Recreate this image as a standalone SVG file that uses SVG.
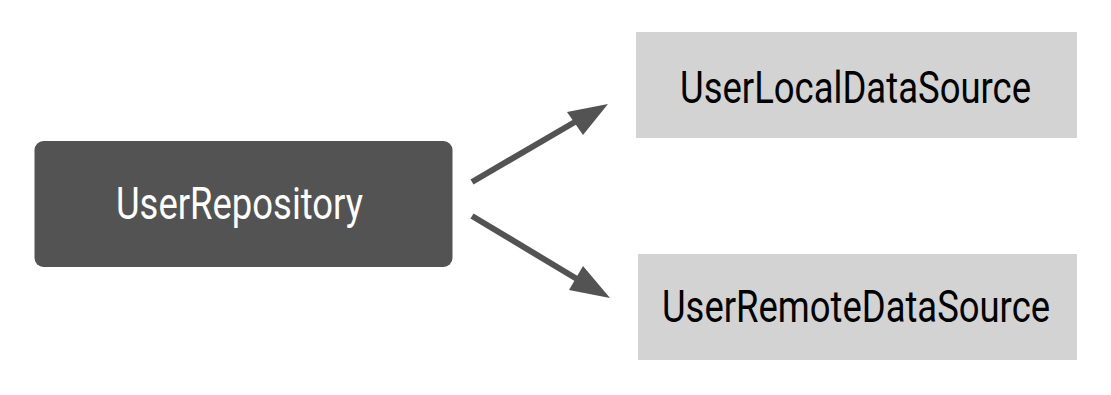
<svg xmlns="http://www.w3.org/2000/svg" width="1111" height="395" viewBox="0 0 1111 395">
<style>
.dark{fill:#535353}
.light{fill:#d3d3d3}
.t{font-family:Roboto,"Liberation Sans",sans-serif;font-size:45px;text-anchor:start}
.tw{fill:#ffffff}
.tb{fill:#000000}
.conn line{stroke:#535353;stroke-width:6}
.conn polygon{fill:#535353}
</style>
<rect width="1111" height="395" fill="#ffffff"/>
<g id="node-userrepository">
<rect class="dark" x="34.500" y="141" width="418" height="126" rx="9"/>
<text class="t tw" x="116" y="219" textLength="247" lengthAdjust="spacingAndGlyphs">UserRepository</text>
</g>
<g id="node-userlocaldatasource">
<rect class="light" x="636" y="32" width="441" height="106"/>
<text class="t tb" x="680" y="103" textLength="351" lengthAdjust="spacingAndGlyphs">UserLocalDataSource</text>
</g>
<g id="node-userremotedatasource">
<rect class="light" x="638" y="254" width="439" height="106"/>
<text class="t tb" x="662" y="322" textLength="388" lengthAdjust="spacingAndGlyphs">UserRemoteDataSource</text>
</g>
<g id="connectors" class="conn">
<line x1="472" y1="182" x2="580" y2="119"/>
<polygon points="608,104 567,112 583,135"/>
<line x1="472" y1="216" x2="582" y2="282"/>
<polygon points="610,298 569,290 583,266"/>
</g>
</svg>
